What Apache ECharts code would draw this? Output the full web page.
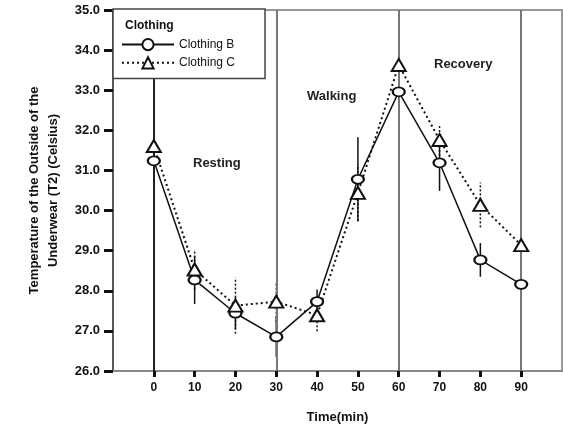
<!DOCTYPE html>
<html><head><meta charset="utf-8">
<script src="https://cdn.jsdelivr.net/npm/echarts@6/dist/echarts.min.js"></script>
<style>html,body{margin:0;padding:0;background:#fff}#c{width:563px;height:430px}</style>
</head><body><div id="c"></div>
<script>
var times = [0, 10, 20, 30, 40, 50, 60, 70, 80, 90];
var clothingB = [31.24, 28.27, 27.44, 26.85, 27.73, 30.78, 32.96, 31.19, 28.77, 28.16];
var clothingBErr = [0.35, 0.6, 0.4, 0.5, 0.3, 1.05, 0.3, 0.7, 0.42, 0.3];
var clothingC = [31.61, 28.53, 27.63, 27.73, 27.39, 30.44, 33.63, 31.76, 30.14, 29.14];
var clothingCErr = [0.3, 0.5, 0.7, 0.5, 0.4, 0.7, 0.25, 0.4, 0.56, 0.3];
var phaseLines = [0, 30, 60, 90];
var phaseLabels = ['Resting', 'Walking', 'Recovery'];
var xTicks = [0, 10, 20, 30, 40, 50, 60, 70, 80, 90];

var FONT = '"Liberation Sans", Arial, sans-serif';
function pairs(v) { return times.map(function (t, i) { return [t, v[i]]; }); }
function errs(v, e) { return times.map(function (t, i) { return [t, v[i] - e[i], v[i] + e[i]]; }); }
function errRender(dash) {
  return function (params, api) {
    var p1 = api.coord([api.value(0), api.value(1)]);
    var p2 = api.coord([api.value(0), api.value(2)]);
    return {
      type: 'line',
      shape: { x1: p1[0], y1: p1[1], x2: p2[0], y2: p2[1] },
      style: { stroke: '#111', lineWidth: 1.5, lineDash: dash }
    };
  };
}

var chart = echarts.init(document.getElementById('c'), null, { renderer: 'canvas' });
chart.setOption({
  animation: false,
  backgroundColor: '#fff',
  grid: { left: 113, right: 1, top: 10, bottom: 59, show: true, borderColor: '#999', borderWidth: 2, backgroundColor: 'transparent' },
  title: {
    text: 'Clothing', left: 120, top: 15, z: 20, zlevel: 1,
    textStyle: { fontFamily: FONT, fontSize: 12, fontWeight: 'bold', color: '#111' }
  },
  legend: {
    left: 113, top: 9, orient: 'vertical',
    padding: [29, 30, 9, 8], itemGap: 5, itemWidth: 52, itemHeight: 14,
    borderColor: '#444', borderWidth: 1.5, backgroundColor: '#fff',
    textStyle: { fontFamily: FONT, fontSize: 12, color: '#111' },
    data: ['Clothing B', 'Clothing C'], z: 10
  },
  xAxis: {
    type: 'value', min: -10, max: 100, interval: 10,
    axisLine: { onZero: false, lineStyle: { color: '#888', width: 2 } },
    axisTick: { show: true, length: 6, lineStyle: { color: '#111', width: 3 }, customValues: xTicks },
    axisLabel: { customValues: xTicks, color: '#111', fontFamily: FONT, fontSize: 12, fontWeight: 'bold', margin: 11 },
    splitLine: { show: false },
    name: 'Time(min)', nameLocation: 'middle', nameGap: 40,
    nameTextStyle: { fontFamily: FONT, fontSize: 13, fontWeight: 'bold', color: '#111' }
  },
  yAxis: {
    type: 'value', min: 26, max: 35, interval: 1,
    axisLine: { onZero: false, lineStyle: { color: '#444', width: 1.5 } },
    axisTick: { show: true, length: 9, lineStyle: { color: '#111', width: 3 } },
    axisLabel: { color: '#111', fontFamily: FONT, fontSize: 13, fontWeight: 'bold', margin: 13,
      formatter: function (v) { return v.toFixed(1); } },
    splitLine: { show: false },
    name: 'Temperature of the Outside of the\nUnderwear (T2) (Celsius)', nameLocation: 'middle', nameGap: 50,
    nameTextStyle: { fontFamily: FONT, fontSize: 13, fontWeight: 'bold', color: '#111', lineHeight: 19 }
  },
  graphic: [
    { type: 'text', left: 193, top: 157, style: { text: phaseLabels[0], font: 'bold 13px ' + FONT, fill: '#222' } },
    { type: 'text', left: 307, top: 90, style: { text: phaseLabels[1], font: 'bold 13px ' + FONT, fill: '#222' } },
    { type: 'text', left: 434, top: 58, style: { text: phaseLabels[2], font: 'bold 13px ' + FONT, fill: '#222' } }
  ],
  series: [
    {
      name: 'Clothing B', type: 'line', data: pairs(clothingB), z: 5,
      symbol: 'emptyCircle', symbolSize: [12, 9],
      lineStyle: { color: '#111', width: 1.5, type: 'solid' },
      itemStyle: { color: '#111', borderColor: '#111', borderWidth: 1.8 },
      markLine: {
        silent: true, symbol: 'none', label: { show: false },
        data: phaseLines.map(function (x, i) {
          return { xAxis: x, lineStyle: { color: i === 0 ? '#222' : '#777', width: 2, type: 'solid' } };
        })
      }
    },
    {
      name: 'Clothing C', type: 'line', data: pairs(clothingC), z: 5,
      symbol: 'emptyTriangle', symbolSize: [14, 12],
      lineStyle: { color: '#111', width: 2, type: [2, 3] },
      itemStyle: { color: '#111', borderColor: '#111', borderWidth: 2 }
    },
    { type: 'custom', data: errs(clothingB, clothingBErr), renderItem: errRender(null), z: 4 },
    { type: 'custom', data: errs(clothingC, clothingCErr), renderItem: errRender([2, 2]), z: 4 }
  ]
});
</script></body></html>
